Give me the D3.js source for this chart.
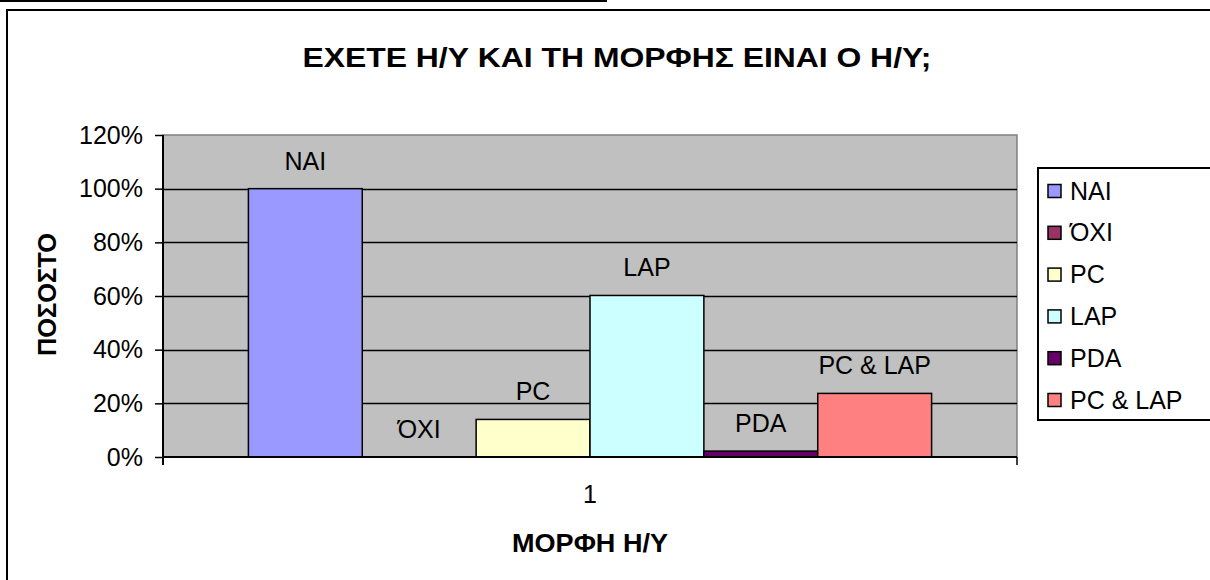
<!DOCTYPE html>
<html>
<head>
<meta charset="utf-8">
<script src="https://cdn.jsdelivr.net/npm/d3@7"></script>
<style>
  html, body { margin: 0; padding: 0; background: #fff; }
  svg { display: block; font-family: "Liberation Sans", Arial, sans-serif; }
</style>
</head>
<body>
<svg id="chart" width="1210" height="580"></svg>
<script>
// Category (single group on the x axis) and series
const categories = ["1"];
const seriesNames = ["ΝΑΙ", "ΌΧΙ", "PC", "LAP", "PDA", "PC & LAP"];
const seriesValues = [1.00, 0.00, 0.14, 0.602, 0.022, 0.237];
const seriesColors = ["#9999FF", "#993366", "#FFFFCC", "#CCFFFF", "#660066", "#FF8080"];
const yTicks = [0, 0.2, 0.4, 0.6, 0.8, 1.0, 1.2];

const titleText = "ΕΧΕΤΕ Η/Υ ΚΑΙ ΤΗ ΜΟΡΦΗΣ ΕΙΝΑΙ Ο Η/Υ;";
const yTitle = "ΠΟΣΟΣΤΟ";
const xTitle = "ΜΟΡΦΗ Η/Υ";

const svg = d3.select("#chart");
const labelSize = 25;

// Plot area geometry
const plot = { left: 163, right: 1017, top: 135, bottom: 457 };

// Stray rule above the chart frame
svg.append("line")
  .attr("x1", 0).attr("x2", 607).attr("y1", 1).attr("y2", 1)
  .attr("stroke", "#000").attr("stroke-width", 2);

// Chart frame
svg.append("rect")
  .attr("x", 7).attr("y", 10).attr("width", 1215).attr("height", 580)
  .attr("fill", "#fff").attr("stroke", "#000").attr("stroke-width", 2);

// Scales
const x0 = d3.scaleBand().domain(categories).range([plot.left, plot.right]).padding(0);
const x1 = d3.scaleBand().domain(seriesNames).range([0, x0.bandwidth()])
  .paddingInner(0).paddingOuter(0.75);
const y = d3.scaleLinear().domain([0, 1.2]).range([plot.bottom, plot.top]);

// Plot background
svg.append("rect")
  .attr("x", plot.left).attr("y", plot.top)
  .attr("width", plot.right - plot.left).attr("height", plot.bottom - plot.top)
  .attr("fill", "#C0C0C0").attr("stroke", "#808080").attr("stroke-width", 1.5);

// Gridlines
svg.append("g")
  .selectAll("line")
  .data(yTicks.filter(d => d > 0 && d < 1.2))
  .join("line")
  .attr("x1", plot.left).attr("x2", plot.right)
  .attr("y1", d => Math.round(y(d)) + 0.5).attr("y2", d => Math.round(y(d)) + 0.5)
  .attr("stroke", "#000").attr("stroke-width", 1.5);

// Bars
const group = svg.append("g")
  .selectAll("g")
  .data(categories)
  .join("g")
  .attr("transform", d => `translate(${x0(d)},0)`);

const barData = seriesNames.map((name, i) => ({ name, value: seriesValues[i], color: seriesColors[i] }));

group.selectAll("rect")
  .data(barData)
  .join("rect")
  .attr("x", d => x1(d.name))
  .attr("y", d => y(d.value))
  .attr("width", x1.bandwidth())
  .attr("height", d => y(0) - y(d.value))
  .attr("fill", d => d.color)
  .attr("stroke", "#000").attr("stroke-width", 1.5);

// Data labels (series names above bars)
group.selectAll("text")
  .data(barData)
  .join("text")
  .attr("x", d => x1(d.name) + x1.bandwidth() / 2)
  .attr("y", d => y(d.value) - 19)
  .attr("text-anchor", "middle")
  .attr("font-size", labelSize)
  .attr("fill", "#000")
  .text(d => d.name);

// Y axis
const yAxis = d3.axisLeft(y).tickValues(yTicks).tickFormat(d3.format(".0%")).tickSize(8).tickPadding(12);
const yG = svg.append("g").attr("transform", `translate(${plot.left},0)`).call(yAxis);
yG.select(".domain").remove();
yG.selectAll(".tick line").attr("stroke", "#000").attr("stroke-width", 1.5);
yG.selectAll(".tick text").attr("font-size", labelSize).attr("fill", "#000")
  .attr("font-family", "Liberation Sans, Arial, sans-serif");
svg.append("line")
  .attr("x1", plot.left).attr("x2", plot.left)
  .attr("y1", plot.top).attr("y2", plot.bottom + 8)
  .attr("stroke", "#000").attr("stroke-width", 2);

// X axis
svg.append("line")
  .attr("x1", plot.left).attr("x2", plot.right)
  .attr("y1", plot.bottom).attr("y2", plot.bottom)
  .attr("stroke", "#000").attr("stroke-width", 2);
svg.append("line")
  .attr("x1", plot.right).attr("x2", plot.right)
  .attr("y1", plot.bottom).attr("y2", plot.bottom + 8)
  .attr("stroke", "#000").attr("stroke-width", 1.5);
svg.append("g")
  .selectAll("text")
  .data(categories)
  .join("text")
  .attr("x", d => x0(d) + x0.bandwidth() / 2)
  .attr("y", 503)
  .attr("text-anchor", "middle")
  .attr("font-size", labelSize)
  .text(d => d);

// Titles
svg.append("text")
  .attr("x", 617).attr("y", 67)
  .attr("text-anchor", "middle")
  .attr("font-size", 27).attr("font-weight", "bold")
  .attr("textLength", 629).attr("lengthAdjust", "spacingAndGlyphs")
  .text(titleText);

svg.append("text")
  .attr("x", 590).attr("y", 552)
  .attr("text-anchor", "middle")
  .attr("font-size", 25).attr("font-weight", "bold")
  .attr("textLength", 156).attr("lengthAdjust", "spacingAndGlyphs")
  .text(xTitle);

svg.append("text")
  .attr("transform", "translate(56,294.5) rotate(-90)")
  .attr("text-anchor", "middle")
  .attr("font-size", 25).attr("font-weight", "bold")
  .attr("textLength", 123).attr("lengthAdjust", "spacingAndGlyphs")
  .text(yTitle);

// Legend
const legend = svg.append("g");
legend.append("rect")
  .attr("x", 1038).attr("y", 168).attr("width", 200).attr("height", 252)
  .attr("fill", "#fff").attr("stroke", "#000").attr("stroke-width", 2);

const legendY = d3.scalePoint().domain(seriesNames).range([191, 400]);
const items = legend.selectAll("g.item")
  .data(barData)
  .join("g")
  .attr("class", "item")
  .attr("transform", d => `translate(1048,${legendY(d.name)})`);
items.append("rect")
  .attr("x", 0).attr("y", -6.5).attr("width", 13).attr("height", 13)
  .attr("fill", d => d.color).attr("stroke", "#000").attr("stroke-width", 1.5);
items.append("text")
  .attr("x", 22).attr("y", 8.5)
  .attr("font-size", labelSize)
  .text(d => d.name);
</script>
</body>
</html>
